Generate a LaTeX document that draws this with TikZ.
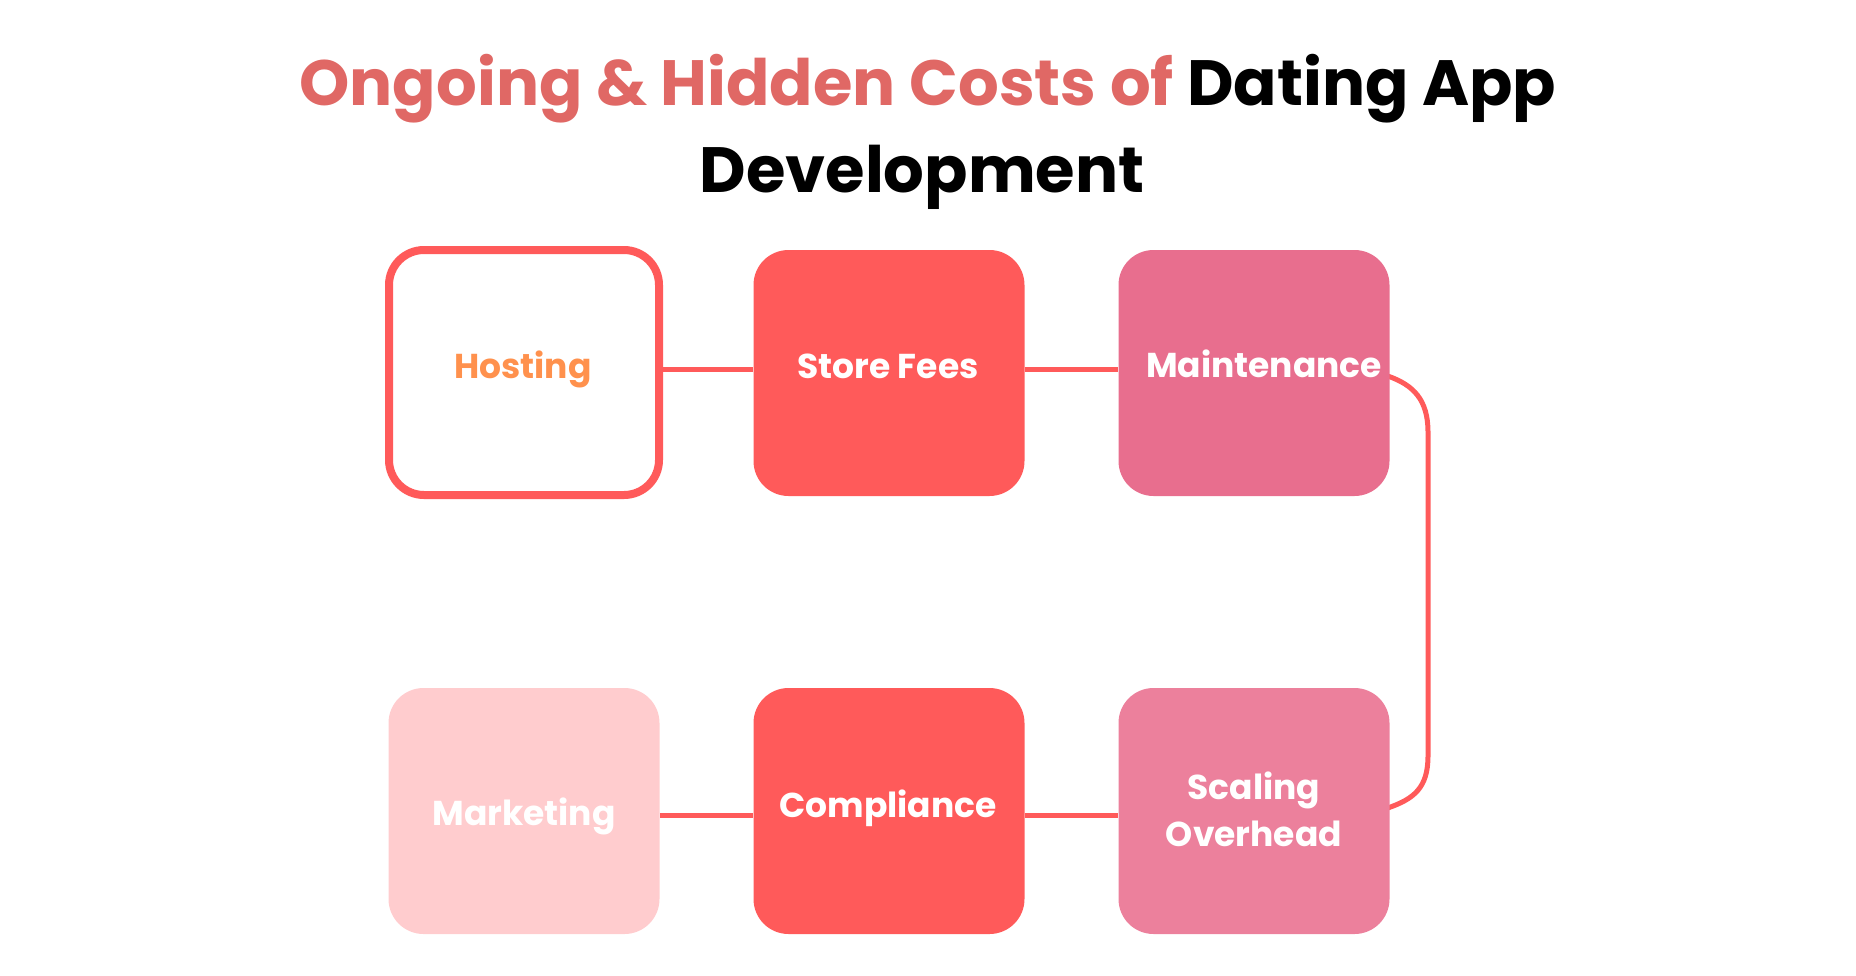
\documentclass[tikz,border=0pt]{standalone}
\usepackage{fontspec}
\setmainfont{Poppins}[UprightFont=* Bold, BoldFont=* Bold]
\usetikzlibrary{backgrounds}
\definecolor{titlered}{HTML}{E06865}
\definecolor{coral}{HTML}{FF5A5A}
\definecolor{maint}{HTML}{E86E8E}
\definecolor{scal}{HTML}{EC809C}
\definecolor{mark}{HTML}{FFCCCE}
\definecolor{hostorange}{HTML}{FF914D}
\tikzset{
  costbox/.style={rounded corners=35pt, minimum width=271pt, minimum height=246pt, inner sep=0pt},
  costlabel/.style={anchor=base, inner sep=0pt, text=white, font=\fontsize{34.5}{47}\selectfont, align=center},
  link/.style={draw=coral, line width=5pt},
}
\begin{document}
\begin{tikzpicture}[x=1pt,y=-1pt]
\useasboundingbox (0,0) rectangle (1856,975);
\node[anchor=base, font=\fontsize{64}{80}\selectfont] (t1) at (928,105) {\textcolor{titlered}{Ongoing \& Hidden Costs of} Dating App};
\node[anchor=base, font=\fontsize{64}{80}\selectfont] (t2) at (922,192) {Development};

\node[costbox, draw=coral, line width=8pt, fill=white, minimum width=270pt, minimum height=245pt] (host) at (524,372.5) {};
\node[costbox, fill=coral] (store) at (889,373) {};
\node[costbox, fill=maint] (maint) at (1254,373) {};
\node[costbox, fill=mark] (mkt) at (524,811) {};
\node[costbox, fill=coral] (comp) at (889,811) {};
\node[costbox, fill=scal] (scale) at (1254,811) {};

\node[costlabel, text=hostorange] (host-t) at (523,378) {Hosting};
\node[costlabel] (store-t) at (888,378) {Store Fees};
\node[costlabel] (maint-t) at (1264,377) {Maintenance};
\node[costlabel] (mkt-t) at (524,825) {Marketing};
\node[costlabel] (comp-t) at (888,817) {Compliance};
\node[costlabel] (scale-t) at (1254,846) {Scaling\\Overhead};

\begin{scope}[on background layer]
\draw[link] (host.east |- 0,369) -- (store.west |- 0,369);
\draw[link] (store.east |- 0,369) -- (maint.west |- 0,369);
\draw[link] (mkt.east |- 0,815) -- (comp.west |- 0,815);
\draw[link] (comp.east |- 0,815) -- (scale.west |- 0,815);
\draw[link] ([xshift=-2pt,yshift=-3pt]maint.east) .. controls +(26pt,-9pt) and (1428,400) .. (1428,432) -- (1428,756) .. controls (1428,788) and +(26pt,9pt) .. ([xshift=-2pt,yshift=3pt]scale.east);
\end{scope}
\end{tikzpicture}
\end{document}
